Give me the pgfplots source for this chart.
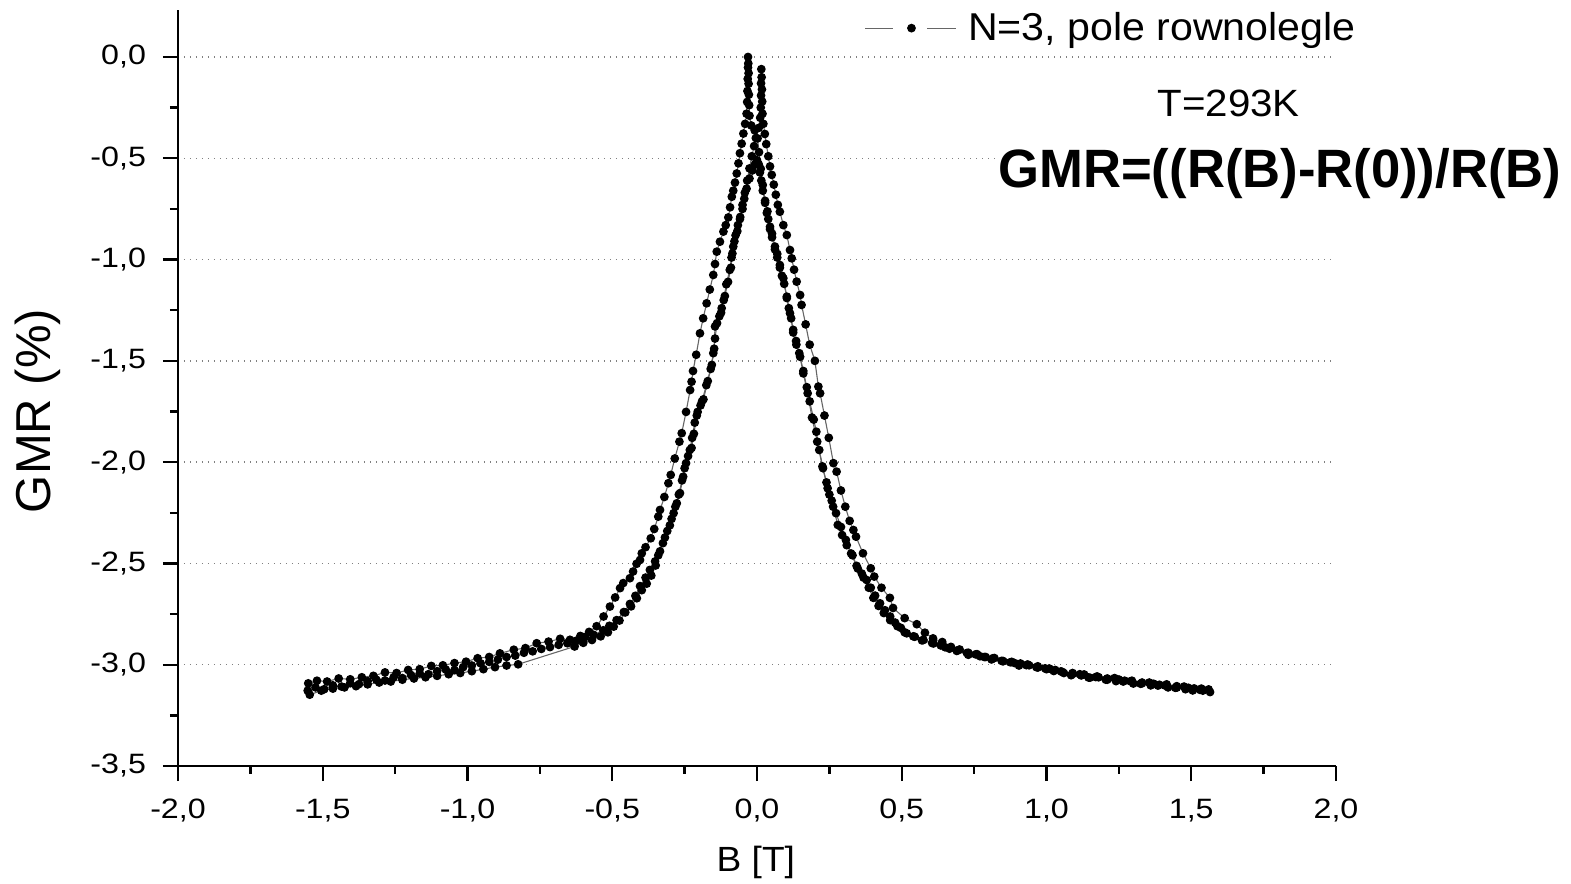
\documentclass[border=0pt]{standalone}
\usepackage{fontspec}
\setmainfont{Liberation Sans}[FakeStretch=1.06]
\newfontfamily\tickfont{Liberation Sans}[FakeStretch=1.15]
\newfontfamily\plainfont{Liberation Sans}
\newfontfamily\gmrfont{Liberation Sans}[FakeStretch=0.975]
\usepackage{pgfplots}
\usepackage{pgfplotstable}
\pgfplotsset{compat=1.18}

% sweep from +B to -B (peak at about -0.03 T)
\pgfplotstableread{
x y
1.565 -3.135
1.535 -3.118
1.505 -3.127
1.475 -3.108
1.445 -3.114
1.415 -3.097
1.385 -3.103
1.355 -3.088
1.325 -3.094
1.295 -3.079
1.265 -3.083
1.235 -3.066
1.205 -3.074
1.175 -3.058
1.145 -3.063
1.115 -3.047
1.085 -3.052
1.055 -3.036
1.025 -3.031
0.995 -3.018
0.965 -3.012
0.935 -2.999
0.905 -3.004
0.875 -2.988
0.845 -2.981
0.815 -2.968
0.785 -2.962
0.755 -2.949
0.725 -2.942
0.695 -2.928
0.665 -2.921
0.635 -2.905
0.605 -2.893
0.575 -2.878
0.545 -2.862
0.517 -2.845
0.497 -2.818
0.477 -2.792
0.460 -2.762
0.442 -2.731
0.425 -2.697
0.408 -2.659
0.393 -2.620
0.379 -2.582
0.362 -2.550
0.344 -2.512
0.325 -2.451
0.307 -2.384
0.290 -2.320
0.273 -2.252
0.258 -2.190
0.244 -2.129
0.226 -2.021
0.208 -1.899
0.190 -1.780
0.175 -1.660
0.160 -1.562
0.146 -1.462
0.135 -1.402
0.125 -1.347
0.114 -1.265
0.103 -1.183
0.091 -1.092
0.079 -1.027
0.070 -0.972
0.062 -0.936
0.052 -0.872
0.045 -0.838
0.036 -0.762
0.028 -0.710
0.020 -0.632
0.013 -0.552
0.007 -0.470
0.002 -0.402
-0.008 -0.362
-0.020 -0.338
-0.026 -0.290
-0.027 -0.238
-0.028 -0.186
-0.029 -0.132
-0.029 -0.080
-0.030 -0.032
-0.031 0.000
-0.031 -0.052
-0.032 -0.108
-0.033 -0.168
-0.034 -0.222
-0.036 -0.280
-0.041 -0.330
-0.047 -0.378
-0.053 -0.428
-0.059 -0.475
-0.064 -0.525
-0.070 -0.575
-0.076 -0.620
-0.082 -0.660
-0.087 -0.690
-0.093 -0.742
-0.099 -0.792
-0.108 -0.830
-0.116 -0.862
-0.128 -0.912
-0.139 -0.961
-0.145 -1.022
-0.151 -1.076
-0.163 -1.148
-0.174 -1.216
-0.186 -1.290
-0.197 -1.364
-0.210 -1.470
-0.221 -1.550
-0.226 -1.603
-0.231 -1.644
-0.245 -1.752
-0.260 -1.857
-0.268 -1.899
-0.284 -1.982
-0.298 -2.063
-0.306 -2.104
-0.320 -2.172
-0.335 -2.236
-0.341 -2.269
-0.355 -2.330
-0.367 -2.376
-0.385 -2.420
-0.398 -2.450
-0.404 -2.483
-0.416 -2.502
-0.428 -2.540
-0.439 -2.573
-0.462 -2.597
-0.473 -2.622
-0.490 -2.668
-0.508 -2.713
-0.530 -2.762
-0.554 -2.810
-0.580 -2.838
-0.610 -2.858
-0.646 -2.877
-0.680 -2.872
-0.720 -2.886
-0.761 -2.894
-0.800 -2.918
-0.840 -2.926
-0.888 -2.944
-0.925 -2.962
-0.965 -2.968
-1.005 -2.985
-1.045 -2.992
-1.085 -3.003
-1.125 -3.006
-1.165 -3.022
-1.205 -3.026
-1.245 -3.041
-1.285 -3.038
-1.325 -3.055
-1.365 -3.062
-1.405 -3.072
-1.445 -3.068
-1.485 -3.083
-1.520 -3.079
-1.550 -3.092
}\sweepdown

% sweep from -B to +B (peak at about +0.015 T)
\pgfplotstableread{
x y
-1.552 -3.128
-1.525 -3.112
-1.495 -3.121
-1.465 -3.102
-1.435 -3.108
-1.405 -3.091
-1.375 -3.096
-1.345 -3.081
-1.315 -3.074
-1.285 -3.078
-1.255 -3.062
-1.225 -3.066
-1.195 -3.051
-1.165 -3.043
-1.135 -3.047
-1.105 -3.032
-1.075 -3.024
-1.045 -3.027
-1.015 -3.012
-0.985 -3.004
-0.955 -2.993
-0.925 -2.986
-0.895 -2.975
-0.865 -2.962
-0.835 -2.955
-0.805 -2.941
-0.775 -2.934
-0.745 -2.922
-0.715 -2.913
-0.685 -2.902
-0.655 -2.894
-0.625 -2.882
-0.595 -2.864
-0.565 -2.852
-0.531 -2.830
-0.510 -2.808
-0.485 -2.780
-0.460 -2.740
-0.439 -2.700
-0.420 -2.660
-0.404 -2.612
-0.385 -2.570
-0.370 -2.532
-0.352 -2.490
-0.335 -2.440
-0.318 -2.372
-0.301 -2.312
-0.288 -2.252
-0.277 -2.203
-0.266 -2.153
-0.255 -2.072
-0.245 -2.005
-0.232 -1.940
-0.224 -1.880
-0.215 -1.805
-0.205 -1.752
-0.190 -1.700
-0.175 -1.620
-0.160 -1.540
-0.151 -1.462
-0.145 -1.390
-0.138 -1.314
-0.124 -1.262
-0.115 -1.200
-0.106 -1.122
-0.094 -1.051
-0.088 -0.990
-0.082 -0.936
-0.074 -0.880
-0.066 -0.830
-0.058 -0.790
-0.050 -0.730
-0.042 -0.670
-0.034 -0.610
-0.026 -0.550
-0.018 -0.490
-0.010 -0.440
-0.004 -0.400
0.006 -0.350
0.011 -0.300
0.013 -0.250
0.014 -0.190
0.014 -0.130
0.015 -0.060
0.016 -0.100
0.017 -0.160
0.018 -0.220
0.019 -0.280
0.022 -0.330
0.027 -0.380
0.032 -0.430
0.039 -0.490
0.045 -0.540
0.051 -0.582
0.058 -0.630
0.065 -0.680
0.072 -0.730
0.079 -0.764
0.091 -0.830
0.103 -0.879
0.114 -0.953
0.120 -0.994
0.128 -1.050
0.137 -1.109
0.149 -1.175
0.154 -1.224
0.168 -1.320
0.182 -1.420
0.200 -1.500
0.212 -1.627
0.218 -1.660
0.233 -1.770
0.248 -1.880
0.264 -2.005
0.275 -2.047
0.290 -2.140
0.305 -2.220
0.320 -2.290
0.333 -2.335
0.342 -2.368
0.366 -2.450
0.393 -2.524
0.405 -2.565
0.430 -2.620
0.459 -2.670
0.470 -2.720
0.510 -2.770
0.552 -2.800
0.580 -2.842
0.608 -2.870
0.640 -2.888
0.670 -2.912
0.700 -2.925
0.730 -2.941
0.760 -2.948
0.790 -2.962
0.820 -2.967
0.850 -2.982
0.880 -2.986
0.910 -2.994
0.940 -3.003
0.970 -3.008
1.000 -3.022
1.030 -3.026
1.060 -3.041
1.090 -3.046
1.120 -3.053
1.150 -3.064
1.180 -3.062
1.210 -3.074
1.240 -3.081
1.270 -3.079
1.300 -3.093
1.330 -3.088
1.360 -3.102
1.390 -3.099
1.420 -3.112
1.450 -3.106
1.480 -3.121
1.510 -3.117
1.540 -3.128
1.560 -3.122
}\sweepup

% second sweep from -B to +B (lower maximum at B = 0)
\pgfplotstableread{
x y
-1.545 -3.148
-1.505 -3.128
-1.465 -3.118
-1.425 -3.112
-1.385 -3.106
-1.345 -3.097
-1.305 -3.088
-1.265 -3.083
-1.225 -3.074
-1.185 -3.068
-1.145 -3.062
-1.105 -3.055
-1.065 -3.047
-1.025 -3.041
-0.985 -3.032
-0.945 -3.022
-0.905 -3.012
-0.865 -3.004
-0.825 -2.998
-0.630 -2.910
-0.600 -2.892
-0.570 -2.878
-0.540 -2.860
-0.515 -2.840
-0.495 -2.812
-0.475 -2.782
-0.455 -2.742
-0.435 -2.712
-0.415 -2.672
-0.398 -2.632
-0.381 -2.600
-0.365 -2.560
-0.350 -2.510
-0.341 -2.460
-0.325 -2.400
-0.310 -2.340
-0.295 -2.280
-0.282 -2.220
-0.270 -2.160
-0.259 -2.090
-0.250 -2.030
-0.238 -1.970
-0.226 -1.930
-0.218 -1.860
-0.208 -1.770
-0.195 -1.720
-0.185 -1.690
-0.170 -1.600
-0.156 -1.520
-0.148 -1.440
-0.145 -1.330
-0.130 -1.280
-0.122 -1.240
-0.111 -1.180
-0.100 -1.110
-0.090 -1.040
-0.085 -0.970
-0.078 -0.910
-0.068 -0.860
-0.059 -0.800
-0.050 -0.750
-0.044 -0.700
-0.036 -0.650
-0.026 -0.600
-0.016 -0.560
-0.007 -0.530
0.000 -0.510
0.006 -0.530
0.010 -0.570
0.015 -0.610
0.020 -0.660
0.028 -0.720
0.034 -0.770
0.039 -0.800
0.045 -0.850
0.052 -0.890
0.062 -0.950
0.070 -0.990
0.079 -1.040
0.086 -1.080
0.094 -1.120
0.103 -1.190
0.110 -1.240
0.118 -1.290
0.125 -1.360
0.136 -1.420
0.149 -1.480
0.160 -1.550
0.172 -1.630
0.182 -1.700
0.196 -1.790
0.205 -1.850
0.215 -1.940
0.228 -2.030
0.240 -2.100
0.250 -2.160
0.263 -2.220
0.279 -2.310
0.294 -2.360
0.310 -2.410
0.330 -2.460
0.348 -2.525
0.368 -2.570
0.386 -2.620
0.402 -2.670
0.420 -2.710
0.438 -2.745
0.460 -2.780
0.485 -2.810
0.510 -2.840
0.540 -2.860
0.570 -2.880
0.610 -2.895
0.650 -2.914
0.690 -2.932
0.730 -2.951
0.770 -2.958
0.810 -2.974
0.850 -2.983
0.890 -2.992
0.930 -3.002
0.970 -3.014
1.010 -3.019
1.050 -3.033
1.090 -3.041
1.130 -3.048
1.170 -3.061
1.210 -3.068
1.250 -3.073
1.290 -3.082
1.330 -3.092
1.370 -3.094
1.410 -3.103
1.450 -3.113
1.490 -3.114
1.530 -3.124
}\sweepagain

\begin{document}
\begin{tikzpicture}
\useasboundingbox (0,0) rectangle (785.5pt,442pt);
\begin{axis}[
    at={(89pt,59pt)}, anchor=south west,
    scale only axis,
    width=579pt, height=378pt,
    xmin=-2, xmax=2,
    ymin=-3.5, ymax=0.232,
    axis x line*=bottom,
    axis y line*=left,
    axis line style={line width=1.3pt},
    xtick={-2,-1.5,-1,-0.5,0,0.5,1,1.5,2},
    xticklabels={{-2,0},{-1,5},{-1,0},{-0,5},{0,0},{0,5},{1,0},{1,5},{2,0}},
    ytick={-3.5,-3,-2.5,-2,-1.5,-1,-0.5,0},
    yticklabels={{-3,5},{-3,0},{-2,5},{-2,0},{-1,5},{-1,0},{-0,5},{0,0}},
    minor tick num=1,
    tick align=outside,
    major tick length=7.5pt,
    minor tick length=4pt,
    every tick/.style={black, line width=1.2pt},
    ymajorgrids,
    major grid style={gray, line width=0.7pt, dash pattern=on 0.7pt off 2.3pt},
    tick label style={font=\tickfont\fontsize{14}{16}\selectfont},
    xticklabel style={yshift=-5.5pt},
    yticklabel style={xshift=-5pt},
    xlabel={B [T]},
    ylabel={GMR (\%)},
    xlabel style={font=\fontsize{17.5}{20}\selectfont, at={(axis description cs:0.499,-0.127)}, anchor=center},
    ylabel style={font=\plainfont\fontsize{24.5}{28}\selectfont, at={(axis description cs:-0.1209,0.4696)}, anchor=center},
    clip=false,
    legend style={draw=none, fill=none, inner sep=0pt,
        at={(axis description cs:1.0207,0.976)}, anchor=east,
        font=\fontsize{19.4}{22}\selectfont},
    legend image code/.code={
        \draw[#1, mark=none] (0pt,0pt) -- (14pt,0pt);
        \draw[#1, mark=none] (31pt,0pt) -- (45.5pt,0pt);
        \draw[#1, only marks] plot coordinates {(23pt,0pt)};
        \path (49pt,0pt);
    },
    gmrline/.style={draw=black!60, line width=0.55pt,
        mark=*, mark size=1.9pt, mark options={solid, fill=black, draw=black}},
]
\addplot[gmrline] table[x=x, y=y] {\sweepdown};
\addlegendentry{N=3, pole rownolegle}
\addplot[gmrline, forget plot] table[x=x, y=y] {\sweepup};
\addplot[gmrline, forget plot] table[x=x, y=y] {\sweepagain};

\node[anchor=base west, inner sep=0pt, font=\fontsize{19}{22}\selectfont]
    at (axis cs:1.382,-0.296) {T=293K};
\node[anchor=base west, fill=white, inner sep=1.5pt,
    font=\gmrfont\bfseries\fontsize{27}{32}\selectfont]
    at (axis cs:0.822,-0.642) {GMR=((R(B)-R(0))/R(B)};
\end{axis}
\end{tikzpicture}
\end{document}
